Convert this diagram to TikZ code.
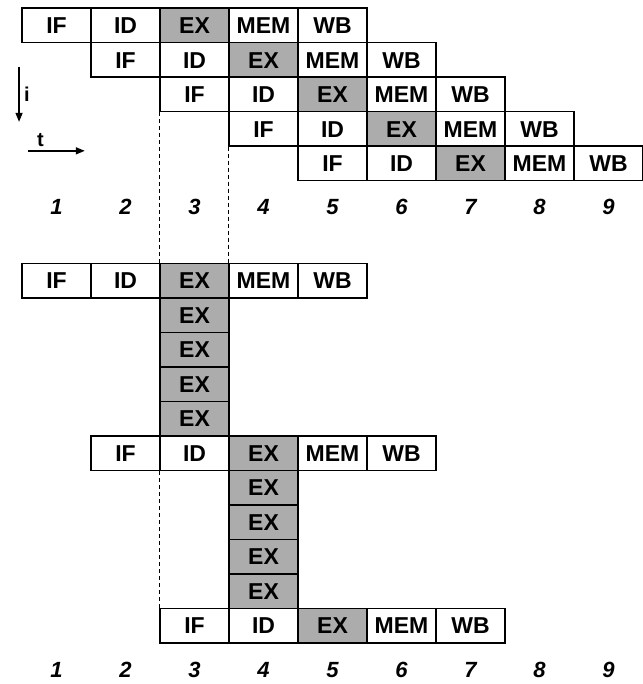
\documentclass[tikz,border=0pt]{standalone}
\usepackage{fontspec}
\setsansfont{Liberation Sans}
\usepackage{xcolor}
\usepackage{tikz}
\usetikzlibrary{arrows.meta}
\definecolor{exgray}{RGB}{172,172,172}

\begin{document}
\begin{tikzpicture}[x=69pt, y=34.5pt, line width=1.4pt,
    stage/.style={rectangle, draw, fill=#1, minimum width=69pt, minimum height=34.5pt,
                  inner sep=0pt, text centered, text height=16.5pt, text depth=0pt,
                  font=\fontsize{23}{24}\selectfont\sffamily\bfseries},
    cycle/.style={text height=15.8pt, text depth=0pt,
                  font=\fontsize{22}{24}\selectfont\sffamily\bfseries\itshape},
    guide/.style={line width=0.8pt, dash pattern=on 4pt off 3pt},
    axis/.style={line width=1.4pt, -{Triangle[length=9pt,width=7pt]}}]

\useasboundingbox (0.181,0.732) rectangle (9.486,-19.094);

% overlapped pipeline
\node[stage=white] (r1if) at (1,0) {IF};
\node[stage=white] (r1id) at (2,0) {ID};
\node[stage=exgray] (r1ex) at (3,0) {EX};
\node[stage=white] (r1mem) at (4,0) {MEM};
\node[stage=white] (r1wb) at (5,0) {WB};

\node[stage=white] (r2if) at (2,-1) {IF};
\node[stage=white] (r2id) at (3,-1) {ID};
\node[stage=exgray] (r2ex) at (4,-1) {EX};
\node[stage=white] (r2mem) at (5,-1) {MEM};
\node[stage=white] (r2wb) at (6,-1) {WB};

\node[stage=white] (r3if) at (3,-2) {IF};
\node[stage=white] (r3id) at (4,-2) {ID};
\node[stage=exgray] (r3ex) at (5,-2) {EX};
\node[stage=white] (r3mem) at (6,-2) {MEM};
\node[stage=white] (r3wb) at (7,-2) {WB};

\node[stage=white] (r4if) at (4,-3) {IF};
\node[stage=white] (r4id) at (5,-3) {ID};
\node[stage=exgray] (r4ex) at (6,-3) {EX};
\node[stage=white] (r4mem) at (7,-3) {MEM};
\node[stage=white] (r4wb) at (8,-3) {WB};

\node[stage=white] (r5if) at (5,-4) {IF};
\node[stage=white] (r5id) at (6,-4) {ID};
\node[stage=exgray] (r5ex) at (7,-4) {EX};
\node[stage=white] (r5mem) at (8,-4) {MEM};
\node[stage=white] (r5wb) at (9,-4) {WB};

% axes
\coordinate (itop) at (0.457,-1.21);
\coordinate (ibot) at (0.457,-2.80);
\coordinate (tleft) at (0.587,-3.64);
\coordinate (tright) at (1.41,-3.64);
\draw[axis] (itop) -- (ibot) node[midway, right=1pt, font=\fontsize{20}{22}\selectfont\sffamily\bfseries]{i};
\draw[axis] (tleft) -- (tright) node[pos=0.22, above=0pt, font=\fontsize{20}{22}\selectfont\sffamily\bfseries]{t};

\node[cycle] (n1) at (1,-5.27) {1};
\node[cycle] (n2) at (2,-5.27) {2};
\node[cycle] (n3) at (3,-5.27) {3};
\node[cycle] (n4) at (4,-5.27) {4};
\node[cycle] (n5) at (5,-5.27) {5};
\node[cycle] (n6) at (6,-5.27) {6};
\node[cycle] (n7) at (7,-5.27) {7};
\node[cycle] (n8) at (8,-5.27) {8};
\node[cycle] (n9) at (9,-5.27) {9};

% stalled pipeline, EX takes five cycles
\node[stage=white] (aif) at (1,-7.4) {IF};
\node[stage=white] (aid) at (2,-7.4) {ID};
\node[stage=exgray] (aex) at (3,-7.4) {EX};
\node[stage=white] (amem) at (4,-7.4) {MEM};
\node[stage=white] (awb) at (5,-7.4) {WB};
\node[stage=exgray] (aex1) at (3,-8.4) {EX};
\node[stage=exgray] (aex2) at (3,-9.4) {EX};
\node[stage=exgray] (aex3) at (3,-10.4) {EX};
\node[stage=exgray] (aex4) at (3,-11.4) {EX};

\node[stage=white] (bif) at (2,-12.4) {IF};
\node[stage=white] (bid) at (3,-12.4) {ID};
\node[stage=exgray] (bex) at (4,-12.4) {EX};
\node[stage=white] (bmem) at (5,-12.4) {MEM};
\node[stage=white] (bwb) at (6,-12.4) {WB};
\node[stage=exgray] (bex1) at (4,-13.4) {EX};
\node[stage=exgray] (bex2) at (4,-14.4) {EX};
\node[stage=exgray] (bex3) at (4,-15.4) {EX};
\node[stage=exgray] (bex4) at (4,-16.4) {EX};

\node[stage=white] (cif) at (3,-17.4) {IF};
\node[stage=white] (cid) at (4,-17.4) {ID};
\node[stage=exgray] (cex) at (5,-17.4) {EX};
\node[stage=white] (cmem) at (6,-17.4) {MEM};
\node[stage=white] (cwb) at (7,-17.4) {WB};

\node[cycle] (m1) at (1,-18.69) {1};
\node[cycle] (m2) at (2,-18.69) {2};
\node[cycle] (m3) at (3,-18.69) {3};
\node[cycle] (m4) at (4,-18.69) {4};
\node[cycle] (m5) at (5,-18.69) {5};
\node[cycle] (m6) at (6,-18.69) {6};
\node[cycle] (m7) at (7,-18.69) {7};
\node[cycle] (m8) at (8,-18.69) {8};
\node[cycle] (m9) at (9,-18.69) {9};

% guide lines
\draw[guide] (r3if.south west) -- (aex.north west);
\draw[guide] (r4if.south west) -- (amem.north west);
\draw[guide] (bid.south west) -- (cif.north west);
\end{tikzpicture}
\end{document}
